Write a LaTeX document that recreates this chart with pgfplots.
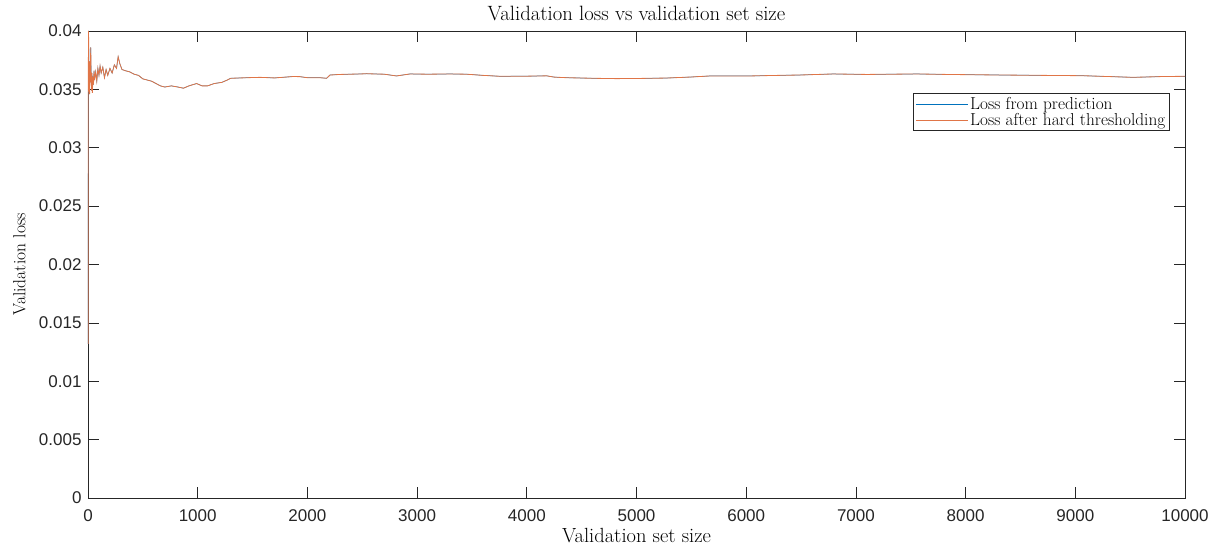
\documentclass[border=0pt]{standalone}
\usepackage{fontspec}
\usepackage{pgfplots}
\pgfplotsset{compat=1.18}
\usepackage{pgfplotstable}
\usetikzlibrary{calc}
\newfontfamily\ticksfont{Liberation Sans}

\definecolor{mblue}{rgb}{0,0.447,0.741}
\definecolor{morange}{rgb}{0.850,0.325,0.098}
\definecolor{axgray}{rgb}{0.15,0.15,0.15}

% running mean of the validation loss over the first n samples
\pgfplotstableread{
n     loss
1     0.0132
2     0.0255
3     0.0335
4     0.0400
5     0.0386
6     0.0395
8     0.0371
10    0.0348
12    0.0362
15    0.0346
18    0.0374
20    0.0356
25    0.0386
28    0.0366
32    0.0349
36    0.0364
40    0.0347
45    0.0361
50    0.0354
55    0.0366
60    0.0358
70    0.0365
80    0.0357
90    0.0368
100   0.0362
110   0.0370
120   0.0364
135   0.0369
150   0.0360
165   0.0367
180   0.0362
200   0.0368
220   0.0364
240   0.0371
260   0.0368
275   0.0378
290   0.0372
310   0.0367
340   0.0366
380   0.0365
420   0.0363
460   0.0362
500   0.0359
540   0.0358
580   0.0357
620   0.0355
660   0.0353
700   0.0352
760   0.0353
820   0.0352
870   0.0351
920   0.0353
990   0.0355
1040  0.0353
1090  0.0353
1150  0.0355
1220  0.0356
1270  0.0358
1300  0.03595
1450  0.0360
1570  0.03603
1700  0.03598
1870  0.0361
1930  0.03609
2000  0.0360
2115  0.0360
2175  0.03595
2206  0.03623
2300  0.03628
2480  0.03632
2540  0.03634
2700  0.0363
2812  0.03615
2935  0.03632
3100  0.0363
3300  0.03632
3451  0.0363
3600  0.0362
3756  0.03612
4000  0.03613
4180  0.03616
4250  0.03605
4362  0.0360
4600  0.03595
4818  0.03592
5050  0.03594
5273  0.03597
5500  0.03606
5670  0.03615
6035  0.03615
6300  0.0362
6490  0.03623
6791  0.03632
7100  0.03628
7557  0.03632
7900  0.03627
8314  0.03623
8700  0.0362
9070  0.03617
9300  0.0361
9526  0.03603
9800  0.0361
10000 0.03612
}\losstable

\begin{document}
\begin{tikzpicture}
\begin{axis}[
  name=ax,
  scale only axis,
  width=1097pt, height=467pt,
  xmin=0, xmax=10000, ymin=0, ymax=0.04,
  xtick={0,1000,...,10000},
  ytick={0,0.005,...,0.04},
  scaled x ticks=false, scaled y ticks=false,
  xticklabel style={/pgf/number format/1000 sep={}, yshift=-8pt},
  yticklabel style={/pgf/number format/fixed,/pgf/number format/precision=3, xshift=-3pt},
  /pgf/number format/assume math mode=true,
  tick label style={font=\ticksfont\fontsize{17}{19}\selectfont, text=axgray},
  tick align=inside,
  major tick length=11pt,
  axis line style={axgray, line width=0.7pt},
  every tick/.style={axgray, line width=0.7pt},
  title={Validation loss vs validation set size},
  title style={font=\fontsize{20.7}{24}\selectfont,
    at={(axis description cs:0.5,1)}, anchor=base, yshift=4pt},
  xlabel={Validation set size},
  ylabel={Validation loss},
  xlabel style={font=\fontsize{20.5}{23}\selectfont,
    at={(axis description cs:0.5,0)}, anchor=base, yshift=-44pt},
  ylabel style={font=\fontsize{17.5}{20}\selectfont,
    at={(axis description cs:-0.057,0.5)}, anchor=base},
  legend style={at={(0.986,0.867)}, anchor=north east,
    font=\fontsize{17.3}{19}\selectfont, draw=axgray, line width=0.7pt,
    inner sep=2pt, row sep=-2pt},
  legend cell align=left,
  legend image code/.code={\draw[#1] (0cm,0cm) -- (52pt,0cm);},
]
\addplot[mblue, line width=0.5pt] table[x=n, y=loss] {\losstable};
\addlegendentry{Loss from prediction}
\addplot[morange!80!white, line width=0.8pt] table[x=n, y=loss] {\losstable};
\addlegendentry{Loss after hard thresholding}
\end{axis}
\path ($(ax.south west)+(-88pt,-48pt)$) rectangle ($(ax.north east)+(32pt,31pt)$);
\end{tikzpicture}
\end{document}
